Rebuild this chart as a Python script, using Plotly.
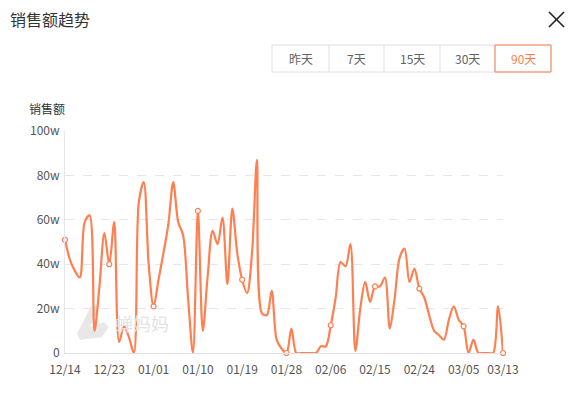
import plotly.graph_objects as go
import pandas as pd

# ---- data ----
start_date = "2021-12-14"
n_days = 90
dates = list(pd.date_range(start_date, periods=n_days).strftime("%m/%d"))
sales_w = [51, 42, 37, 34, 59, 62, 10, 30, 54, 40,
           59, 5, 12, 7, 0, 68, 77, 40, 21, 33,
           45, 58, 77, 59, 53, 25, 0, 64, 10, 35,
           55, 49, 61, 31, 65, 45, 33, 27, 45, 87,
           18, 17, 28, 6, 2, 0, 11, 0, 0, 0,
           0, 0, 3, 3, 12.5, 25, 41, 39, 49, 1,
           20, 32, 23, 30, 30, 34, 11, 25, 43, 47,
           32, 38, 29, 25, 17, 10, 8, 6, 15, 21,
           15, 12, 0, 6, 0, 0, 0, 0, 21, 0]
tick_labels = ["12/14", "12/23", "01/01", "01/10", "01/19", "01/28",
               "02/06", "02/15", "02/24", "03/05", "03/13"]
y_ticks = [0, 20, 40, 60, 80, 100]
y_tick_text = ["0", "20w", "40w", "60w", "80w", "100w"]
buttons = ["昨天", "7天", "15天", "30天", "90天"]
selected_button = "90天"

ORANGE = "#ff7f50"
W, H = 578, 396
L, R, T, B = 65, 503, 131, 353

def px(x):
    return (x - L) / (R - L)

def py(y):
    return (B - y) / (B - T)

marker_idx = [i for i, d in enumerate(dates) if d in tick_labels]

fig = go.Figure()
fig.add_trace(go.Scatter(
    x=dates, y=sales_w, mode="lines",
    line=dict(color=ORANGE, width=2.2, shape="spline", smoothing=0.9),
    hoverinfo="x+y", showlegend=False))
fig.add_trace(go.Scatter(
    x=[dates[i] for i in marker_idx], y=[sales_w[i] for i in marker_idx],
    mode="markers",
    marker=dict(size=5, color="white", line=dict(color=ORANGE, width=1.2)),
    cliponaxis=False, showlegend=False))

shapes = []
annotations = []

# title
annotations.append(dict(text="销售额趋势", x=px(8), y=py(19), xref="paper", yref="paper",
                        xanchor="left", yanchor="middle", showarrow=False,
                        font=dict(size=16, color="#333333")))
# close X
for (x0, y0, x1, y1) in [(549, 12, 564, 27), (564, 12, 549, 27)]:
    shapes.append(dict(type="line", xref="paper", yref="paper",
                       x0=px(x0), y0=py(y0), x1=px(x1), y1=py(y1),
                       line=dict(color="#222222", width=1.6)))
# button group
bx = [272, 329, 384, 440, 495, 551]
by0, by1 = 45, 72
shapes.append(dict(type="rect", xref="paper", yref="paper",
                   x0=px(bx[0]), x1=px(bx[-1]), y0=py(by1), y1=py(by0),
                   line=dict(color="#dcdfe6", width=1), fillcolor="white"))
for xv in bx[1:-1]:
    shapes.append(dict(type="line", xref="paper", yref="paper",
                       x0=px(xv), x1=px(xv), y0=py(by1), y1=py(by0),
                       line=dict(color="#dcdfe6", width=1)))
for i, b in enumerate(buttons):
    sel = (b == selected_button)
    if sel:
        shapes.append(dict(type="rect", xref="paper", yref="paper",
                           x0=px(bx[i]), x1=px(bx[i + 1]), y0=py(by1), y1=py(by0),
                           line=dict(color=ORANGE, width=1)))
    annotations.append(dict(text=b, x=px((bx[i] + bx[i + 1]) / 2), y=py((by0 + by1) / 2),
                            xref="paper", yref="paper", showarrow=False,
                            xanchor="center", yanchor="middle",
                            font=dict(size=12, color=ORANGE if sel else "#606266")))
# y axis name
annotations.append(dict(text="销售额", x=px(27), y=py(109), xref="paper", yref="paper",
                        xanchor="left", yanchor="middle", showarrow=False,
                        font=dict(size=12, color="#333333")))
# watermark
annotations.append(dict(text="蝉妈妈", x=px(142), y=py(323), xref="paper", yref="paper",
                        xanchor="center", yanchor="middle", showarrow=False,
                        font=dict(size=18, color="#e3e3e3")))
logo = [(91, 306), (100, 306), (90, 327), (104, 322), (109, 327), (102, 337), (80, 340), (77, 334)]
path = "M " + " L ".join(f"{px(a)},{py(b)}" for a, b in logo) + " Z"
shapes.append(dict(type="path", xref="paper", yref="paper", path=path,
                   fillcolor="#e8e8e8", line=dict(width=0), layer="below"))

fig.update_layout(
    width=W, height=H,
    margin=dict(l=L, r=W - R, t=T, b=H - B),
    paper_bgcolor="white", plot_bgcolor="white",
    font=dict(family="Noto Sans CJK SC, sans-serif", size=12, color="#666666"),
    shapes=shapes, annotations=annotations,
    xaxis=dict(type="category", range=[0, n_days - 1],
               tickmode="array", tickvals=tick_labels, ticktext=tick_labels,
               showgrid=False, showline=True, linecolor="#e0e0e6", linewidth=1,
               ticks="outside", ticklen=6, tickcolor="rgba(0,0,0,0)",
               tickfont=dict(size=12, color="#555555"), zeroline=False),
    yaxis=dict(range=[0, 100], tickvals=y_ticks, ticktext=y_tick_text,
               showgrid=True, gridcolor="#e6e6ee", griddash="dash", gridwidth=1,
               showline=True, linecolor="#e6e6ee", linewidth=1, zeroline=False,
               ticks="outside", ticklen=2, tickcolor="rgba(0,0,0,0)",
               tickfont=dict(size=12, color="#555555")),
    hovermode="closest",
)

fig.write_html("out.html")
